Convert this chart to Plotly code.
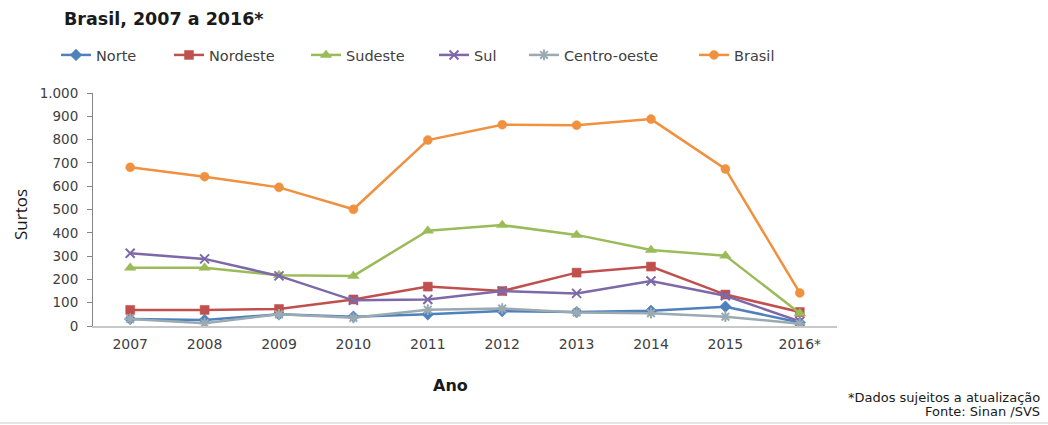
import plotly.graph_objects as go

anos = ["2007", "2008", "2009", "2010", "2011", "2012", "2013", "2014", "2015", "2016*"]
norte = [30, 26, 50, 40, 50, 64, 60, 65, 83, 15]
nordeste = [69, 69, 73, 114, 169, 150, 229, 255, 135, 60]
sudeste = [250, 250, 218, 215, 409, 433, 391, 326, 302, 55]
sul = [312, 288, 215, 110, 114, 150, 140, 193, 130, 20]
centro_oeste = [30, 12, 50, 35, 70, 75, 58, 55, 40, 10]
brasil = [681, 641, 595, 501, 798, 864, 862, 888, 674, 142]

W, H = 1048, 425
L, R, T, B = 93, 211, 93, 99
PW, PH = W - L - R, H - T - B

series = [
    ("Norte", norte, "#4F81BD", "diamond", 62),
    ("Nordeste", nordeste, "#C0504D", "square", 175),
    ("Sudeste", sudeste, "#9BBB59", "triangle-up", 312),
    ("Sul", sul, "#7E68A8", "x-thin", 440),
    ("Centro-oeste", centro_oeste, "#9AAAB2", "asterisk", 530),
    ("Brasil", brasil, "#F0913F", "circle", 700),
]

fig = go.Figure()
layout_legends = {}
for i, (name, vals, color, sym, lx) in enumerate(series):
    lname = "legend" if i == 0 else f"legend{i+1}"
    open_sym = sym in ("x-thin", "asterisk")
    fig.add_trace(go.Scatter(
        x=anos, y=vals, name=name, mode="lines+markers",
        line=dict(color=color, width=2.5),
        marker=dict(symbol=sym, size=9 if sym != "triangle-up" else 10, color=color,
                    line=dict(color=color, width=2 if open_sym else 0.5)),
        legend=lname,
    ))
    layout_legends[lname] = dict(
        x=(lx - 6) / W, y=1 - 39 / H, xref="container", yref="container",
        xanchor="left", yanchor="top", orientation="h",
        font=dict(family="DejaVu Sans", size=14.5, color="#404040"),
        bgcolor="rgba(0,0,0,0)", itemwidth=30, tracegroupgap=0,
    )

fig.update_layout(
    width=W, height=H,
    margin=dict(l=L, r=R, t=T, b=B),
    paper_bgcolor="white", plot_bgcolor="white",
    showlegend=True,
    separators=",.",
    **layout_legends,
)

fig.update_xaxes(
    type="category", showgrid=False, showline=True, linecolor="#C8C8C8", linewidth=2,
    ticks="", tickfont=dict(family="DejaVu Sans", size=14, color="#404040"),
    range=[-0.5, 9.5], zeroline=False, ticklabelstandoff=4,
)
fig.update_yaxes(
    range=[0, 1000], dtick=100, showgrid=False, showline=True, linecolor="#868686", linewidth=1,
    ticks="outside", ticklen=5, tickcolor="#868686",
    tickfont=dict(family="DejaVu Sans", size=13.5, color="#404040"),
    tickformat=",d", zeroline=False,
    ticklabelstandoff=6,
)

fig.add_annotation(text="<b>Brasil, 2007 a 2016*</b>", xref="paper", yref="paper",
                   x=(62 - L) / PW, y=1 + (T - 19) / PH,
                   xanchor="left", yanchor="middle", showarrow=False,
                   font=dict(family="DejaVu Sans", size=17.5, color="#1a1a1a"))
fig.add_annotation(text="Surtos", xref="paper", yref="paper",
                   x=(20 - L) / PW, y=(H - B - 215) / PH,
                   xanchor="center", yanchor="middle", textangle=-90, showarrow=False,
                   font=dict(family="Open Sans", size=17, color="#1a1a1a"))
fig.add_annotation(text="<b>Ano</b>", xref="paper", yref="paper",
                   x=(450 - L) / PW, y=(H - B - 386) / PH,
                   xanchor="center", yanchor="middle", showarrow=False,
                   font=dict(family="DejaVu Sans", size=16, color="#1a1a1a"))
fig.add_annotation(text="*Dados sujeitos a atualização", xref="paper", yref="paper",
                   x=(1042 - L) / PW, y=(H - B - 397) / PH,
                   xanchor="right", yanchor="middle", showarrow=False,
                   font=dict(family="DejaVu Sans", size=13, color="#1a1a1a"))
fig.add_annotation(text="Fonte: Sinan /SVS", xref="paper", yref="paper",
                   x=(1042 - L) / PW, y=(H - B - 411) / PH,
                   xanchor="right", yanchor="middle", showarrow=False,
                   font=dict(family="DejaVu Sans", size=13, color="#1a1a1a"))
fig.add_shape(type="line", xref="paper", yref="paper",
              x0=-L / PW, x1=(W - L) / PW,
              y0=(H - B - 423) / PH, y1=(H - B - 423) / PH,
              line=dict(color="#E4E4E4", width=2))

fig.write_html("out.html")
